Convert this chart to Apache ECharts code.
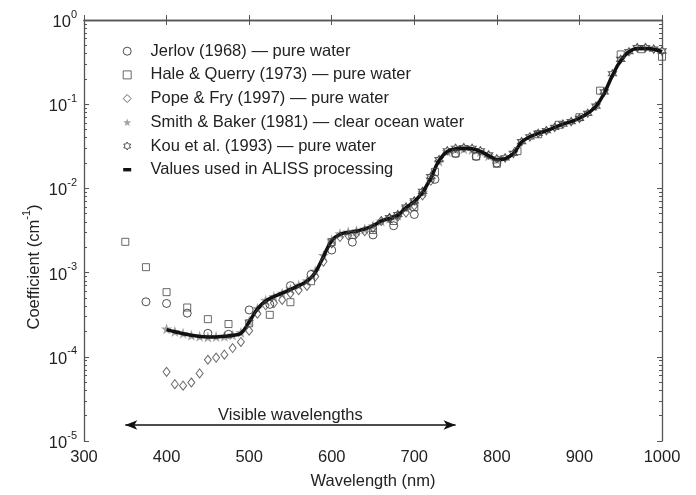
<!DOCTYPE html>
<html>
<head>
<meta charset="utf-8">
<script src="https://cdn.jsdelivr.net/npm/echarts@6/dist/echarts.min.js"></script>
<style>
  html, body { margin: 0; padding: 0; background: #fff; }
  #chart { width: 696px; height: 495px; }
</style>
</head>
<body>
<div id="chart"></div>
<script>
// ---- data (absorption coefficient, cm^-1) ----
const jerlovWl = [375, 400, 425, 450, 475, 500, 525, 550, 575, 600, 625, 650, 675, 700, 725, 750, 775, 800];
const jerlov = [4.5e-4, 4.3e-4, 3.3e-4, 1.9e-4, 1.85e-4, 3.6e-4, 4.2e-4, 7.0e-4, 9.5e-4, 1.85e-3, 2.3e-3, 2.8e-3, 3.6e-3, 4.9e-3, 1.28e-2, 2.6e-2, 2.4e-2, 2.0e-2];

const haleWl = [350, 375, 400, 425, 450, 475, 500, 525, 550, 575, 600, 625, 650, 675, 700, 725, 750, 775, 800, 825, 850, 875, 900, 925, 950, 975, 1000];
const hale = [2.32e-3, 1.16e-3, 5.86e-4, 3.85e-4, 2.8e-4, 2.45e-4, 2.5e-4, 3.15e-4, 4.45e-4, 7.9e-4, 2.3e-3, 2.8e-3, 3.2e-3, 4.1e-3, 6.0e-3, 1.57e-2, 2.6e-2, 2.4e-2, 1.96e-2, 2.77e-2, 4.4e-2, 5.7e-2, 7.0e-2, 0.145, 0.39, 0.45, 0.366];

const popeWl = [400, 410, 420, 430, 440, 450, 460, 470, 480, 490, 500, 510, 520, 530, 540, 550, 560, 570, 580, 590, 600, 610, 620, 630, 640, 650, 660, 670, 680, 690, 700, 710, 720];
const pope = [6.63e-5, 4.73e-5, 4.54e-5, 4.95e-5, 6.35e-5, 9.22e-5, 9.79e-5, 1.06e-4, 1.27e-4, 1.5e-4, 2.04e-4, 3.25e-4, 4.09e-4, 4.34e-4, 4.74e-4, 5.65e-4, 6.19e-4, 6.95e-4, 8.96e-4, 1.351e-3, 2.224e-3, 2.644e-3, 2.755e-3, 2.916e-3, 3.108e-3, 3.4e-3, 4.1e-3, 4.39e-3, 4.65e-3, 5.16e-3, 6.24e-3, 8.27e-3, 1.231e-2];

const smithWl = [400, 410, 420, 430, 440, 450, 460, 470, 480, 490, 500, 510, 520, 530, 540, 550, 560, 570, 580, 590, 600, 610, 620, 630, 640, 650, 660, 670, 680, 690, 700, 710, 720, 730, 740, 750, 760, 770, 780, 790, 800];
const smith = [2.15e-4, 2.0e-4, 1.9e-4, 1.8e-4, 1.75e-4, 1.72e-4, 1.74e-4, 1.76e-4, 1.82e-4, 1.95e-4, 2.65e-4, 3.75e-4, 4.7e-4, 5.2e-4, 5.7e-4, 6.4e-4, 7.1e-4, 8.0e-4, 1.05e-3, 1.6e-3, 2.45e-3, 2.9e-3, 3.05e-3, 3.15e-3, 3.3e-3, 3.6e-3, 4.1e-3, 4.4e-3, 4.8e-3, 5.9e-3, 7.0e-3, 9.0e-3, 1.3e-2, 2.1e-2, 2.75e-2, 2.9e-2, 2.95e-2, 2.9e-2, 2.75e-2, 2.45e-2, 2.2e-2];

const kouWl = [670, 680, 690, 700, 710, 720, 730, 740, 750, 760, 770, 780, 790, 800, 810, 820, 830, 840, 850, 860, 870, 880, 890, 900, 910, 920, 930, 940, 950, 960, 970, 980, 990, 1000];
const kou = [4.5e-3, 4.9e-3, 6.0e-3, 7.1e-3, 9.2e-3, 1.38e-2, 2.2e-2, 2.8e-2, 3.0e-2, 3.05e-2, 3.0e-2, 2.8e-2, 2.5e-2, 2.25e-2, 2.3e-2, 2.6e-2, 3.6e-2, 4.1e-2, 4.5e-2, 4.85e-2, 5.3e-2, 5.8e-2, 6.2e-2, 6.8e-2, 7.8e-2, 9.5e-2, 0.14, 0.23, 0.34, 0.42, 0.47, 0.47, 0.45, 0.43];

const alissWl = [400, 410, 420, 430, 440, 450, 460, 470, 480, 490, 500, 510, 520, 530, 540, 550, 560, 570, 580, 590, 600, 610, 620, 630, 640, 650, 660, 670, 680, 690, 700, 710, 720, 730, 740, 750, 760, 770, 780, 790, 800, 810, 820, 830, 840, 850, 860, 870, 880, 890, 900, 910, 920, 930, 940, 950, 960, 970, 980, 990, 1000];
const aliss = [2.1e-4, 1.98e-4, 1.88e-4, 1.8e-4, 1.74e-4, 1.72e-4, 1.72e-4, 1.75e-4, 1.8e-4, 1.9e-4, 2.6e-4, 3.7e-4, 4.6e-4, 5.2e-4, 5.7e-4, 6.3e-4, 7.0e-4, 7.9e-4, 1.0e-3, 1.55e-3, 2.4e-3, 2.85e-3, 3.0e-3, 3.1e-3, 3.3e-3, 3.6e-3, 4.1e-3, 4.4e-3, 4.8e-3, 5.9e-3, 7.0e-3, 9.0e-3, 1.33e-2, 2.15e-2, 2.75e-2, 2.95e-2, 3.0e-2, 2.95e-2, 2.75e-2, 2.45e-2, 2.2e-2, 2.25e-2, 2.6e-2, 3.55e-2, 4.1e-2, 4.5e-2, 4.85e-2, 5.3e-2, 5.8e-2, 6.2e-2, 6.8e-2, 7.8e-2, 9.4e-2, 0.135, 0.22, 0.33, 0.42, 0.46, 0.46, 0.45, 0.42];

const seriesNames = [
  'Jerlov (1968) — pure water',
  'Hale & Querry (1973) — pure water',
  'Pope & Fry (1997) — pure water',
  'Smith & Baker (1981) — clear ocean water',
  'Kou et al. (1993) — pure water',
  'Values used in ALISS processing'
];

// visible band annotation
const visibleRange = [350, 750];
const visibleLevel = 1.55e-5;
const visibleLabel = 'Visible wavelengths';

const FONT = 'Liberation Sans, Arial, Helvetica, sans-serif';
const AXIS_COLOR = '#555';
const TEXT_COLOR = '#222';

const pairs = (xs, ys) => xs.map((x, i) => [x, ys[i]]);

// minor ticks at 2..9 of every decade, expressed as log10 for a helper value axis
const minorTicksLog = [];
for (let e = -5; e < 0; e++) {
  for (let k = 2; k <= 9; k++) minorTicksLog.push(e + Math.log10(k));
}

const STAR = 'path://M0,-10L2.35,-3.24L9.51,-3.09L3.8,1.24L5.88,8.09L0,4L-5.88,8.09L-3.8,1.24L-9.51,-3.09L-2.35,-3.24Z';
const HEXAGRAM = 'path://M0,-10L2.89,-5L8.66,-5L5.77,0L8.66,5L2.89,5L0,10L-2.89,5L-8.66,5L-5.77,0L-8.66,-5L-2.89,-5Z';

const chart = echarts.init(document.getElementById('chart'), null, { renderer: 'canvas' });

// main log axes (decades)
const logAxis = (position, showLabel) => ({
  type: 'log',
  logBase: 10,
  min: 1e-5,
  max: 1,
  position: position,
  axisLine: { show: true, lineStyle: { color: AXIS_COLOR, width: 1.3 } },
  axisTick: { show: true, inside: true, length: 5, lineStyle: { color: AXIS_COLOR } },
  splitLine: { show: false },
  axisLabel: showLabel
    ? {
        show: true,
        margin: 7,
        formatter: v => '{b|10}{s|' + Math.round(Math.log10(v)) + '}',
        rich: {
          b: { fontSize: 16.5, fontFamily: FONT, color: TEXT_COLOR, padding: [5, 0, 0, 0] },
          s: { fontSize: 11, fontFamily: FONT, color: TEXT_COLOR, verticalAlign: 'top' }
        }
      }
    : { show: false }
});

// helper axes only for the minor ticks inside each decade
const minorAxis = position => ({
  type: 'value',
  min: -5,
  max: 0,
  position: position,
  axisLine: { show: false },
  axisTick: { show: true, inside: true, length: 3, customValues: minorTicksLog, lineStyle: { color: AXIS_COLOR } },
  axisLabel: { show: false },
  splitLine: { show: false }
});

const option = {
  animation: false,
  backgroundColor: '#fff',
  textStyle: { fontFamily: FONT },
  grid: { left: 84, right: 34, top: 20, bottom: 47.5, containLabel: false },
  legend: {
    orient: 'vertical',
    left: 117.7,
    top: 37.7,
    itemWidth: 8,
    itemHeight: 8,
    itemGap: 6.7,
    selectedMode: false,
    itemStyle: { borderWidth: 1 },
    textStyle: { fontSize: 16.5, lineHeight: 16, color: TEXT_COLOR, fontFamily: FONT, padding: [0, 0, 0, 14.3] },
    data: [
      { name: seriesNames[0] },
      { name: seriesNames[1] },
      { name: seriesNames[2] },
      { name: seriesNames[3], itemStyle: { borderWidth: 0 } },
      { name: seriesNames[4] },
      { name: seriesNames[5], icon: 'path://M0,0H7V3H0Z', itemStyle: { color: '#111', borderWidth: 0 } }
    ]
  },
  xAxis: [
    {
      type: 'value', min: 300, max: 1000, interval: 100, position: 'bottom',
      name: 'Wavelength (nm)', nameLocation: 'middle', nameGap: 32,
      nameTextStyle: { fontSize: 16.5, color: TEXT_COLOR, fontFamily: FONT },
      axisLine: { show: true, lineStyle: { color: AXIS_COLOR, width: 1.3 } },
      axisTick: { show: true, inside: true, length: 5, lineStyle: { color: AXIS_COLOR } },
      axisLabel: { fontSize: 16.5, color: TEXT_COLOR, fontFamily: FONT, margin: 8, formatter: v => String(v) },
      splitLine: { show: false }
    },
    {
      type: 'value', min: 300, max: 1000, interval: 100, position: 'top',
      axisLine: { show: true, lineStyle: { color: AXIS_COLOR, width: 1.3 } },
      axisTick: { show: true, inside: true, length: 5, lineStyle: { color: AXIS_COLOR } },
      axisLabel: { show: false },
      splitLine: { show: false }
    }
  ],
  yAxis: [
    logAxis('left', true),
    logAxis('right', false),
    minorAxis('left'),
    minorAxis('right')
  ],
  graphic: [
    {
      type: 'text',
      x: 32,
      y: 267,
      rotation: Math.PI / 2,
      style: {
        text: '{n|Coefficient (cm}{s|-1}{n|)}',
        align: 'center',
        verticalAlign: 'middle',
        rich: {
          n: { fontSize: 16.5, fontFamily: FONT, fill: TEXT_COLOR, color: TEXT_COLOR, padding: [5, 0, 0, 0] },
          s: { fontSize: 11, fontFamily: FONT, fill: TEXT_COLOR, color: TEXT_COLOR, verticalAlign: 'top' }
        }
      }
    }
  ],
  series: [
    {
      name: seriesNames[3], type: 'scatter', symbol: STAR, symbolSize: 11,
      itemStyle: { color: '#8a8a8a' },
      data: pairs(smithWl, smith), z: 2
    },
    {
      name: seriesNames[4], type: 'scatter', symbol: HEXAGRAM, symbolSize: 8,
      itemStyle: { color: '#fff', borderColor: '#333', borderWidth: 1.2 },
      data: pairs(kouWl, kou), z: 2
    },
    {
      name: seriesNames[5], type: 'line', showSymbol: false, smooth: 0.4,
      lineStyle: { color: '#111', width: 3.5 },
      itemStyle: { color: '#111' },
      data: pairs(alissWl, aliss), z: 3,
      markLine: {
        silent: true,
        animation: false,
        symbol: ['arrow', 'arrow'],
        symbolSize: [7, 12],
        lineStyle: { color: '#111', width: 1.5, type: 'solid' },
        label: {
          show: true, position: 'insideMiddleTop', distance: 1,
          formatter: visibleLabel, fontSize: 16.5, color: TEXT_COLOR, fontFamily: FONT
        },
        data: [[{ coord: [visibleRange[0], visibleLevel] }, { coord: [visibleRange[1], visibleLevel] }]]
      }
    },
    {
      name: seriesNames[0], type: 'scatter', symbol: 'circle', symbolSize: 8,
      itemStyle: { color: 'rgba(255,255,255,0)', borderColor: '#222', borderWidth: 1 },
      data: pairs(jerlovWl, jerlov), z: 4
    },
    {
      name: seriesNames[1], type: 'scatter', symbol: 'rect', symbolSize: 7,
      itemStyle: { color: 'rgba(255,255,255,0)', borderColor: '#444', borderWidth: 1 },
      data: pairs(haleWl, hale), z: 4
    },
    {
      name: seriesNames[2], type: 'scatter', symbol: 'diamond', symbolSize: [7, 9],
      itemStyle: { color: 'rgba(255,255,255,0)', borderColor: '#444', borderWidth: 1 },
      data: pairs(popeWl, pope), z: 4
    }
  ]
};

chart.setOption(option);
</script>
</body>
</html>
